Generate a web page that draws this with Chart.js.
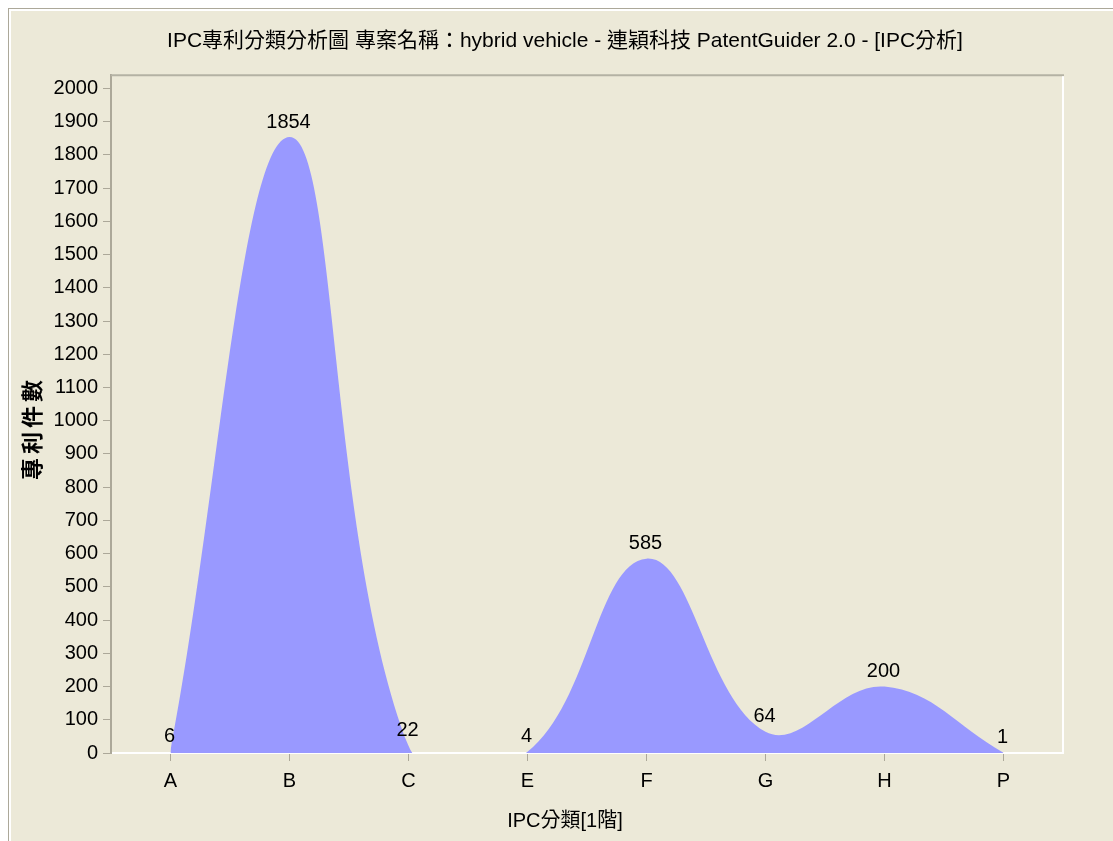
<!DOCTYPE html>
<html>
<head>
  <meta charset="utf-8">
  <script src="https://cdn.jsdelivr.net/npm/chart.js"></script>
  <style>
    html, body { margin: 0; padding: 0; background: #fff; overflow: hidden; }
    .frame {
      position: absolute; left: 8px; top: 8px; width: 1120px; height: 850px;
      background: #ECE9D8;
      border-top: 1px solid #ACA899; border-left: 1px solid #ACA899;
      box-shadow: inset 2px 2px 0 #fff;
    }
    #ipcCanvas { position: absolute; left: 9px; top: 9px; }
  </style>
</head>

<body>
  <div class="frame"></div>
  <canvas id="ipcCanvas" width="1112" height="832"></canvas>

  <script>
    // IPC section counts
    const categories = ['A', 'B', 'C', 'E', 'F', 'G', 'H', 'P'];
    const patentCounts = [6, 1854, 22, 4, 585, 64, 200, 1];

    const chartTitle = 'IPC專利分類分析圖 專案名稱：hybrid vehicle - 連穎科技 PatentGuider 2.0 - [IPC分析]';
    const xTitle = 'IPC分類[1階]';
    const yTitle = '專利件數';

    Chart.defaults.font.family = "'Liberation Sans', 'Noto Sans CJK TC', sans-serif";
    Chart.defaults.color = '#000';

    // value above each point
    const valueLabels = {
      id: 'valueLabels',
      afterDatasetsDraw(chart) {
        const ctx = chart.ctx;
        const meta = chart.getDatasetMeta(0);
        ctx.save();
        ctx.font = "20px 'Liberation Sans', sans-serif";
        ctx.fillStyle = '#000';
        ctx.textAlign = 'center';
        ctx.textBaseline = 'middle';
        meta.data.forEach((pt, i) => {
          ctx.fillText(String(patentCounts[i]), pt.x - 1, pt.y - 15);
        });
        ctx.restore();
      }
    };

    // top (gray) and right (white) edges of the plot box, plus the y title
    const plotFrame = {
      id: 'plotFrame',
      afterDraw(chart) {
        const { ctx, chartArea: a } = chart;
        ctx.save();
        ctx.lineWidth = 2;
        ctx.strokeStyle = '#B4B2A4';
        ctx.beginPath();
        ctx.moveTo(a.left, a.top);
        ctx.lineTo(a.right + 1, a.top);
        ctx.stroke();
        ctx.strokeStyle = '#fff';
        ctx.beginPath();
        ctx.moveTo(a.right, a.top + 1);
        ctx.lineTo(a.right, a.bottom + 1);
        ctx.stroke();

        // y axis title, a bit below the plot centre like the original
        ctx.translate(25, a.top + (a.bottom - a.top) / 2 + 16);
        ctx.rotate(-Math.PI / 2);
        ctx.font = "bold 22px 'Liberation Sans', 'Noto Sans CJK TC', sans-serif";
        ctx.letterSpacing = '4px';
        ctx.fillStyle = '#000';
        ctx.textAlign = 'center';
        ctx.textBaseline = 'middle';
        ctx.fillText(yTitle, 2, 0);
        ctx.restore();
      }
    };

    const ctx = document.getElementById('ipcCanvas').getContext('2d');

    new Chart(ctx, {
      type: 'line',
      data: {
        labels: categories,
        datasets: [{
          data: patentCounts,
          fill: 'origin',
          backgroundColor: '#9999FF',
          borderWidth: 0,
          pointRadius: 0,
          tension: 0.4,
          capBezierPoints: false
        }]
      },
      options: {
        responsive: false,
        animation: false,
        layout: { padding: 0 },
        plugins: {
          legend: { display: false },
          tooltip: { enabled: false },
          title: {
            display: true,
            text: chartTitle,
            font: { size: 21, weight: 'normal' },
            color: '#000',
            padding: { top: 20, bottom: 21 }
          },
          subtitle: {
            display: true,
            position: 'bottom',
            text: xTitle,
            font: { size: 20 },
            color: '#000',
            padding: { top: 0, bottom: 8 }
          }
        },
        scales: {
          x: {
            offset: true,
            grid: { drawOnChartArea: false, drawTicks: true, tickLength: 8, color: '#ACA899', offset: false },
            border: { color: '#fff', width: 2 },
            ticks: { font: { size: 20 }, padding: 8, maxRotation: 0 },
            afterFit: s => { s.height = 56; }
          },
          y: {
            min: 0,
            max: 2040,
            grid: { drawOnChartArea: false, drawTicks: true, tickLength: 8, color: '#ACA899' },
            border: { color: '#ACA899', width: 2 },
            ticks: {
              stepSize: 100,
              includeBounds: false,
              font: { size: 20 },
              padding: 5,
              callback: v => String(v)
            },
            afterFit: s => { s.width = 102; }
          },
          yRight: {
            position: 'right',
            display: true,
            grid: { display: false },
            border: { display: false },
            ticks: { display: false },
            afterFit: s => { s.width = 58; }
          }
        }
      },
      plugins: [valueLabels, plotFrame]
    });
  </script>
</body>
</html>
